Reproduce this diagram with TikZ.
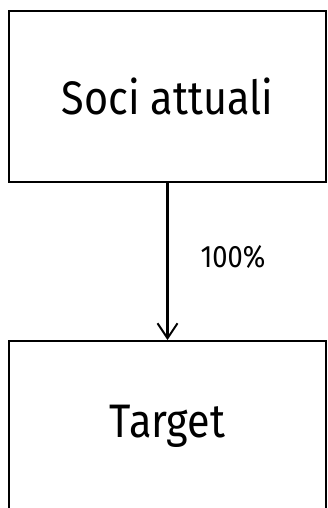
\documentclass[tikz,border=0pt]{standalone}
\usepackage{fontspec}
\setmainfont{Fira Sans}[FakeStretch=0.88]
\usetikzlibrary{arrows.meta}
\begin{document}
\begin{tikzpicture}[x=1pt,y=-1pt,
  box/.style={draw=black, line width=1.8pt, minimum width=317pt, minimum height=171pt, inner sep=0pt, font=\fontsize{47}{50}\selectfont},
  link/.style={line width=2.2pt, -{Straight Barb[length=15pt,width=20pt,line width=2pt]}},
  lbl/.style={font=\fontsize{31}{34}\selectfont}]
\useasboundingbox (0,0) rectangle (327,508);
\node[box] (soci) at (167.5,96.5) {Soci attuali};
\node[box] (target) at (167.5,426.5) {Target};
\draw[link] (soci.south) -- (target.north);
\node[lbl, anchor=west] (pct) at (197,257) {100\%};
\end{tikzpicture}
\end{document}
